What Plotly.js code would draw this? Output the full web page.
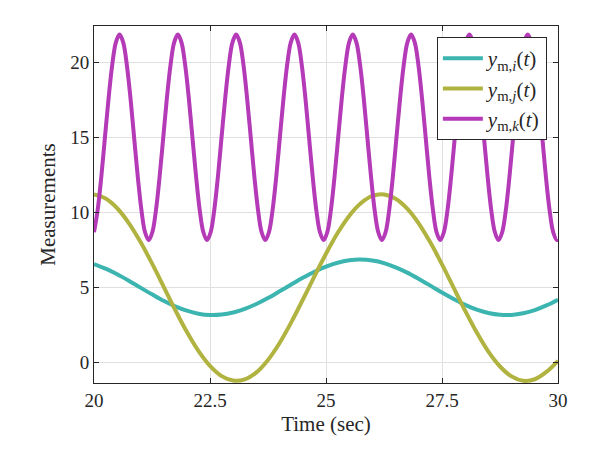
<!DOCTYPE html>
<html>
<head>
<meta charset="utf-8">
<script src="https://cdn.plot.ly/plotly-3.0.1.min.js"></script>
<style>html,body{margin:0;padding:0;background:#fff;}#chart{width:601px;height:449px;}</style>
</head>
<body>
<div id="chart"></div>
<script>
// Series i and j, read every 0.25 s
const tSlow = [20,20.25,20.5,20.75,21,21.25,21.5,21.75,22,22.25,22.5,22.75,23,23.25,23.5,23.75,24,24.25,24.5,24.75,25,25.25,25.5,25.75,26,26.25,26.5,26.75,27,27.25,27.5,27.75,28,28.25,28.5,28.75,29,29.25,29.5,29.75,30];
const yI = [6.55,6.24,5.87,5.44,4.98,4.53,4.10,3.73,3.44,3.24,3.15,3.18,3.32,3.56,3.89,4.28,4.73,5.18,5.63,6.04,6.38,6.64,6.80,6.85,6.78,6.61,6.33,5.98,5.56,5.11,4.65,4.22,3.83,3.51,3.29,3.17,3.16,3.27,3.48,3.79,4.17];
const yJ = [11.19,10.92,10.27,9.28,8.03,6.59,5.05,3.49,2.03,0.76,-0.24,-0.92,-1.22,-1.14,-0.67,0.16,1.29,2.66,4.17,5.73,7.24,8.62,9.76,10.60,11.09,11.19,10.90,10.24,9.25,7.98,6.53,4.98,3.43,1.98,0.71,-0.28,-0.94,-1.23,-1.13,-0.64,0.10];
// Series k, read at peaks, troughs and points in between
const tFast = [20.000,20.079,20.158,20.236,20.315,20.393,20.472,20.550,20.629,20.707,20.786,20.864,20.943,21.022,21.100,21.179,
21.257,21.336,21.414,21.493,21.571,21.650,21.728,21.807,21.885,21.964,22.043,22.121,22.200,22.278,22.357,22.435,
22.514,22.592,22.671,22.749,22.828,22.907,22.985,23.064,23.142,23.221,23.299,23.378,23.456,23.535,23.613,23.692,
23.770,23.849,23.928,24.006,24.085,24.163,24.242,24.320,24.399,24.477,24.556,24.634,24.713,24.791,24.870,24.949,
25.027,25.106,25.184,25.263,25.341,25.420,25.498,25.577,25.655,25.734,25.813,25.891,25.970,26.048,26.127,26.205,
26.284,26.362,26.441,26.519,26.598,26.676,26.755,26.834,26.912,26.991,27.069,27.148,27.226,27.305,27.383,27.462,
27.540,27.619,27.697,27.776,27.855,27.933,28.012,28.090,28.169,28.247,28.326,28.404,28.483,28.561,28.640,28.718,
28.797,28.876,28.954,29.033,29.111,29.190,29.268,29.347,29.425,29.504,29.582,29.661,29.739,29.818,29.897,29.975,30.000];
const yK = [8.67,10.16,12.38,15,17.62,19.84,21.33,21.85,21.33,19.84,17.62,15,12.38,10.16,8.67,8.15,
8.67,10.16,12.38,15,17.62,19.84,21.33,21.85,21.33,19.84,17.62,15,12.38,10.16,8.67,8.15,
8.67,10.16,12.38,15,17.62,19.84,21.33,21.85,21.33,19.84,17.62,15,12.38,10.16,8.67,8.15,
8.67,10.16,12.38,15,17.62,19.84,21.33,21.85,21.33,19.84,17.62,15,12.38,10.16,8.67,8.15,
8.67,10.16,12.38,15,17.62,19.84,21.33,21.85,21.33,19.84,17.62,15,12.38,10.16,8.67,8.15,
8.67,10.16,12.38,15,17.62,19.84,21.33,21.85,21.33,19.84,17.62,15,12.38,10.16,8.67,8.15,
8.67,10.16,12.38,15,17.62,19.84,21.33,21.85,21.33,19.84,17.62,15,12.38,10.16,8.67,8.15,
8.67,10.16,12.38,15,17.62,19.84,21.33,21.85,21.33,19.84,17.62,15,12.38,10.16,8.67,8.15,8.2];
const names = ['<i>y</i><sub>m,<i>i</i></sub>(<i>t</i>)','<i>y</i><sub>m,<i>j</i></sub>(<i>t</i>)','<i>y</i><sub>m,<i>k</i></sub>(<i>t</i>)'];
const colors = ['#3cb5b0','#b1b340','#b43ab8'];
const xTicks = [20,22.5,25,27.5,30];
const xTickText = ['20','22.5','25','27.5','30'];
const yTicks = [0,5,10,15,20];

const font = 'Liberation Serif, Times New Roman, serif';
const traces = [
  {x:tSlow, y:yI, name:names[0], color:colors[0]},
  {x:tSlow, y:yJ, name:names[1], color:colors[1]},
  {x:tFast, y:yK, name:names[2], color:colors[2]}
].map(s => ({x:s.x, y:s.y, name:s.name, type:'scatter', mode:'lines',
  line:{color:s.color, width:4, shape:'spline', smoothing:1}}));

const axisCommon = {
  showline:true, linecolor:'#262626', linewidth:1, mirror:'ticks',
  ticks:'inside', ticklen:5, tickcolor:'#262626', tickwidth:1,
  showgrid:true, gridcolor:'#e0e0e0', gridwidth:1, zeroline:false,
  tickfont:{family:font, size:19, color:'#262626'}
};
const layout = {
  width:601, height:449,
  margin:{l:94, r:43, t:26, b:66},
  paper_bgcolor:'#fff', plot_bgcolor:'#fff',
  font:{family:font, color:'#262626'},
  xaxis:Object.assign({}, axisCommon, {range:[20,30], tickvals:xTicks, ticktext:xTickText,
    title:{text:'Time (sec)', font:{family:font, size:21, color:'#262626'}, standoff:6}}),
  yaxis:Object.assign({}, axisCommon, {range:[-1.38,22.42], tickvals:yTicks,
    title:{text:'Measurements', font:{family:font, size:21, color:'#262626'}, standoff:8}}),
  showlegend:true,
  legend:{x:0.976, y:0.969, xanchor:'right', yanchor:'top', bgcolor:'#fff',
    bordercolor:'#262626', borderwidth:1, font:{family:font, size:21, color:'#262626'},
    itemwidth:40, tracegroupgap:0}
};
Plotly.newPlot('chart', traces, layout, {displayModeBar:false, staticPlot:true});
</script>
</body>
</html>
